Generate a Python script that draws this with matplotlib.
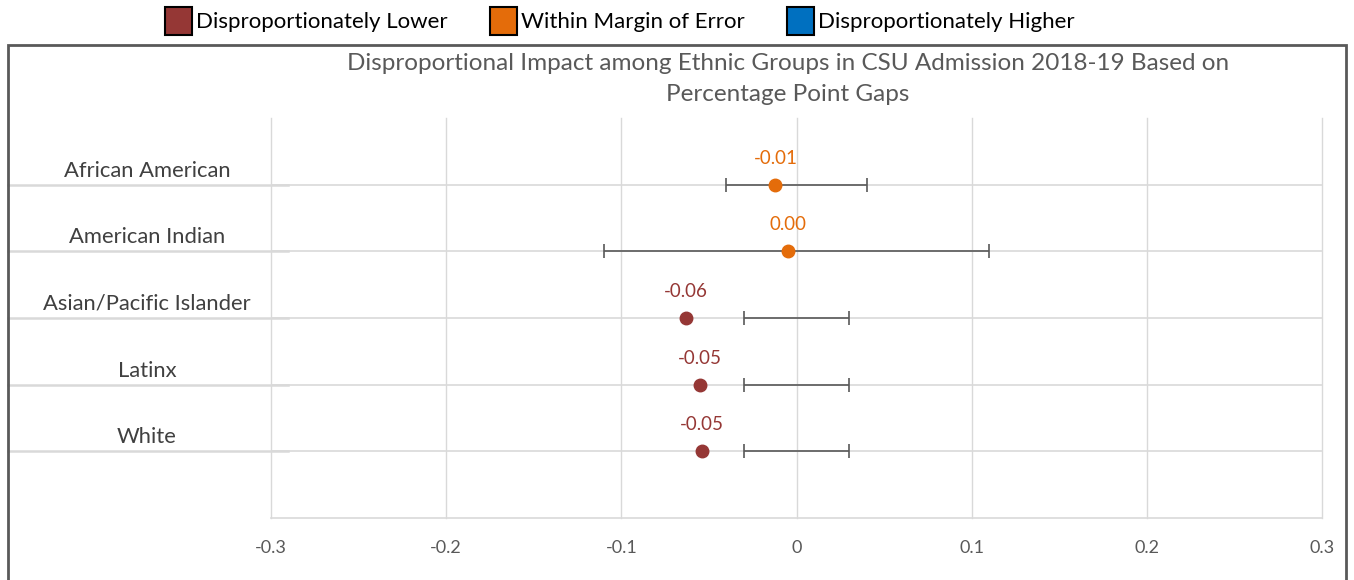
import matplotlib
matplotlib.use('Agg')
import matplotlib.pyplot as plt
from matplotlib.patches import Patch, Rectangle

# dati
gruppi = ['African American', 'American Indian', 'Asian/Pacific Islander', 'Latinx', 'White']
gap = [-0.012, -0.005, -0.063, -0.055, -0.054]
etichette = ['-0.01', '0.00', '-0.06', '-0.05', '-0.05']
margine = [0.04, 0.11, 0.03, 0.03, 0.03]
stato = ['within', 'within', 'lower', 'lower', 'lower']
tick_x = [-0.3, -0.2, -0.1, 0, 0.1, 0.2, 0.3]
tick_lab = ['-0.3', '-0.2', '-0.1', '0', '0.1', '0.2', '0.3']

colori = {'lower': '#953735', 'within': '#E46C0A', 'higher': '#0070C0'}
legenda = [('Disproportionately Lower', 'lower'),
           ('Within Margin of Error', 'within'),
           ('Disproportionately Higher', 'higher')]

plt.rcParams['font.family'] = ['Lato', 'DejaVu Sans']

W, H = 1354, 580
fig = plt.figure(figsize=(W / 100, H / 100), dpi=100)
ax = fig.add_axes([271 / W, (H - 518) / H, (1322 - 271) / W, 400 / H])

# cornice grigia
fig.patches.append(Rectangle((8 / W, -0.05), (1346 - 8) / W, 1.05 - 45 / H,
                             transform=fig.transFigure, fill=False,
                             edgecolor='#595959', linewidth=2))

ypos = [len(gruppi) - i for i in range(len(gruppi))]

ax.set_xlim(-0.3, 0.3)
ax.set_ylim(0, len(gruppi) + 1)
ax.set_xticks(tick_x)
ax.set_xticklabels(tick_lab)
ax.set_yticks([])
ax.tick_params(axis='x', length=0, pad=16, labelsize=13, labelcolor='#595959')
for s in ['top', 'left', 'right']:
    ax.spines[s].set_visible(False)
ax.spines['bottom'].set_color('#D9D9D9')
ax.spines['bottom'].set_linewidth(1.2)

for x in tick_x:
    ax.axvline(x, color='#D9D9D9', linewidth=1, zorder=0, clip_on=False)

ytr = ax.get_yaxis_transform()
for i, g in enumerate(gruppi):
    y = ypos[i]
    ax.axhline(y, color='#D9D9D9', linewidth=1.2, zorder=0)
    # linea sotto l'etichetta
    ax.plot([-0.25, 0.016], [y, y], transform=ytr, color='#D9D9D9',
            linewidth=1.8, clip_on=False, zorder=0)
    ax.text(-0.118, y + 0.21, g, transform=ytr, ha='center', va='center',
            fontsize=15.8, color='#404040')
    # barra di errore centrata sullo zero
    ax.errorbar(0, y, xerr=margine[i], fmt='none', ecolor='#595959',
                elinewidth=1.2, capsize=5, capthick=1.2, zorder=2)
    c = colori[stato[i]]
    ax.plot(gap[i], y, 'o', color=c, markersize=9, zorder=3)
    ax.annotate(etichette[i], (gap[i], y), xytext=(0, 19), textcoords='offset points',
                ha='center', va='center', fontsize=13.5, color=c)

fig.text(788 / W, 1 - 79 / H,
         'Disproportional Impact among Ethnic Groups in CSU Admission 2018-19 Based on\nPercentage Point Gaps',
         ha='center', va='center', fontsize=17.5, color='#595959', linespacing=1.6)

maniglie = [Patch(facecolor=colori[k], edgecolor='black', linewidth=1.5, label=t)
            for t, k in legenda]
fig.legend(handles=maniglie, loc='center', bbox_to_anchor=(620 / W, 1 - 21 / H),
           ncol=3, frameon=False, fontsize=16, handlelength=1.2, handleheight=1.5,
           handletextpad=0.2, columnspacing=1.9)

fig.savefig('out.png', dpi=100)
